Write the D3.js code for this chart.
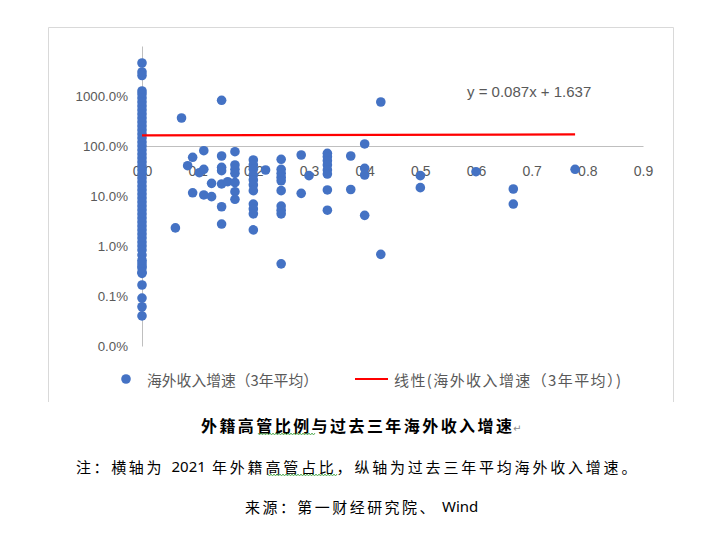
<!DOCTYPE html>
<html><head><meta charset="utf-8">
<script src="https://cdn.jsdelivr.net/npm/d3@7"></script>
<style>body{margin:0;background:#fff;} svg{display:block}</style>
</head><body>
<svg id="chart" width="716" height="539"></svg>
<script>
// ---- data ----
const xTicks = [0, 0.1, 0.2, 0.3, 0.4, 0.5, 0.6, 0.7, 0.8, 0.9];
const yTicks = [0.01, 0.1, 1, 10, 100, 1000]; // percent
const seriesName = "海外收入增速（3年平均）";
const trendName = "线性(海外收入增速（3年平均）)";
const trendSlope = 0.087;
const trendIntercept = 1.637;
const equationLabel = "y = 0.087x + 1.637";

// foreign executive ratio (x) and 3-year avg overseas revenue growth in % (y)
const foreignRatio = [
  0,0,0,0,0,0,0,0,0,0,0,0,0,0,0,0,0,0,0,0,0,0,0,0,0,0,0,0,0,0,
  0,0,0,0,0,0,0,0,0,0,0,0,0,0,0,0,0,0,0,0,0,0,0,0,0,
  0.060,0.071,0.082,0.091,0.091,0.103,0.111,0.111,0.111,0.125,0.125,
  0.143,0.143,0.143,0.143,0.143,0.143,0.143,0.154,
  0.167,0.167,0.167,0.167,0.167,0.167,0.167,
  0.2,0.2,0.2,0.2,0.2,0.2,0.2,0.2,0.2,0.2,0.2,
  0.222,
  0.25,0.25,0.25,0.25,0.25,0.25,0.25,0.25,0.25,0.25,
  0.286,0.286,0.3,
  0.333,0.333,0.333,0.333,0.333,0.333,0.333,0.333,
  0.375,0.375,0.4,0.4,0.4,0.4,0.429,0.429,0.5,0.5,0.6,0.667,0.667,0.778
];
const growth3y = [
  4571,3020,2570,1259,1096,912,759,631,525,437,363,302,251,209,174,145,120,100,83,69,
  57.5,47.9,39.8,33.1,27.5,22.9,19.1,15.8,13.2,11.0,
  9.12,7.59,6.31,5.25,4.37,3.63,3.02,2.51,2.09,1.74,1.45,1.20,1.00,0.83,0.66,
  0.457,0.363,0.284,0.40,0.30,0.166,0.091,0.061,0.040,0.52,
  2.3,363,40.4,59.4,11.6,29.2,80.5,34.2,10.5,17.9,9.7,
  820,63.1,37.5,32.1,17.4,6.1,2.75,19.3,
  76.9,41.7,34.2,28.4,18.5,12.2,8.6,
  52.5,41.7,34.2,26.3,20.9,16.6,12.8,6.9,5.5,4.4,2.1,
  33.1,
  54.2,34.2,28.4,23.7,20.2,12.8,6.3,5.2,4.4,0.44,
  66.1,11.3,25.5,
  71.4,61.1,50.8,41.7,33.1,27.5,13.2,5.2,
  63.1,13.5,110,35.8,26.3,4.1,759,0.68,25.5,14.7,30.6,13.8,6.9,34.2
];
const points = foreignRatio.map((x, i) => ({x, y: growth3y[i]}));

// ---- drawing ----
const svg = d3.select("#chart");
const blue = "#4472C4", grey = "#BFBFBF", txt = "#595959";
const x = d3.scaleLinear().domain([0, 0.9]).range([142, 643]);
const y = d3.scaleLog().domain([0.01, 10000]).range([346, 46]);

// chart frame
svg.append("path")
  .attr("d", "M48.5,402 V27.5 H673.5 V402")
  .attr("fill", "none").attr("stroke", "#D9D9D9").attr("stroke-width", 1);

// x axis (crosses at 100%)
const xAxis = svg.append("g")
  .attr("transform", `translate(0,${y(100)})`)
  .call(d3.axisBottom(x).tickValues(xTicks).tickSize(0).tickSizeOuter(0)
        .tickPadding(20).tickFormat(d3.format(".1f")));
xAxis.select(".domain").attr("stroke", grey);
xAxis.selectAll("text").attr("fill", txt)
  .style("font-family", "'Liberation Sans', Arial, sans-serif").style("font-size", "14px");

// y axis
const yAxis = svg.append("g")
  .attr("transform", `translate(${x(0)},0)`)
  .call(d3.axisLeft(y).tickValues(yTicks).tickSize(0).tickSizeOuter(0)
        .tickPadding(14).tickFormat(d => d3.format(".1f")(d) + "%"));
yAxis.select(".domain").attr("stroke", grey);
yAxis.selectAll("text").attr("fill", txt)
  .style("font-family", "'Liberation Sans', Arial, sans-serif").style("font-size", "13.3px");

// points
svg.append("g").selectAll("circle").data(points).join("circle")
  .attr("cx", d => x(d.x)).attr("cy", d => y(d.y)).attr("r", 4.8)
  .attr("fill", blue);

// trend line
const xMax = d3.max(foreignRatio);
const trend = [0, xMax].map(v => ({x: v, y: (trendSlope * v + trendIntercept) * 100}));
svg.append("path").datum(trend)
  .attr("d", d3.line().x(d => x(d.x)).y(d => y(d.y)))
  .attr("stroke", "#FF0000").attr("stroke-width", 2.2).attr("fill", "none");

svg.append("text").attr("x", 467).attr("y", 91).attr("dominant-baseline", "central")
  .attr("fill", txt).style("font-family", "'Liberation Sans', Arial, sans-serif")
  .style("font-size", "15px").text(equationLabel);

// legend
const cjk = "'Noto Sans CJK SC', 'Noto Sans', sans-serif";
svg.append("circle").attr("cx", 126).attr("cy", 379).attr("r", 4.8).attr("fill", blue);
svg.append("text").attr("x", 147).attr("y", 379).attr("dominant-baseline", "central")
  .attr("fill", txt).style("font-family", cjk).style("font-size", "15px")
  .attr("textLength", 171).attr("lengthAdjust", "spacingAndGlyphs").text(seriesName);
svg.append("line").attr("x1", 355).attr("x2", 388).attr("y1", 379).attr("y2", 379)
  .attr("stroke", "#FF0000").attr("stroke-width", 2.2);
svg.append("text").attr("x", 394).attr("y", 379).attr("dominant-baseline", "central")
  .attr("fill", txt).style("font-family", cjk).style("font-size", "15px")
  .attr("textLength", 227).attr("lengthAdjust", "spacing").text(trendName);

// captions below the chart
svg.append("text").attr("x", 201).attr("y", 425).attr("dominant-baseline", "central")
  .attr("fill", "#000").style("font-family", cjk).style("font-weight", 700).style("font-size", "16px")
  .attr("textLength", 311).attr("lengthAdjust", "spacing").text("外籍高管比例与过去三年海外收入增速");
svg.append("text").attr("x", 513).attr("y", 428).attr("dominant-baseline", "central")
  .attr("fill", "#888").style("font-family", "'DejaVu Sans', sans-serif").style("font-size", "10px").text("↵");

// multi-run caption: [string, x, letterSpacing, isLatin]
function caption(runs, yy) {
  const t = svg.append("text").attr("y", yy).attr("dominant-baseline", "central")
    .attr("fill", "#000").style("font-family", cjk).style("font-size", "15px");
  runs.forEach(([s, x0, ls, latin]) => {
    const sp = t.append("tspan").attr("x", x0).style("letter-spacing", ls + "px").text(s);
    if (latin) sp.style("font-family", "'Noto Sans', 'Liberation Sans', sans-serif");
  });
}
caption([["注：横轴为 ", 76, 2.6, false], ["2021 ", 171.5, 0, true],
         ["年外籍高管占比，纵轴为过去三年平均海外收入增速。", 212, 2.8, false]], 466);
caption([["来源：第一财经研究院、", 245, 2.45, false], ["Wind", 442, 0, true]], 506);

// spell-check style wavy underlines
function wavy(x0, x1, yy) {
  const pts = d3.range(x0, x1 + 0.1, 1.5).map((v, i) => [v, yy + (i % 2 ? 1 : -1)]);
  svg.append("path").attr("d", d3.line()(pts)).attr("fill", "none")
    .attr("stroke", "#3A9E3A").attr("stroke-width", 0.8);
}
wavy(258, 316, 434);
wavy(268, 338, 475);
</script>
</body></html>
